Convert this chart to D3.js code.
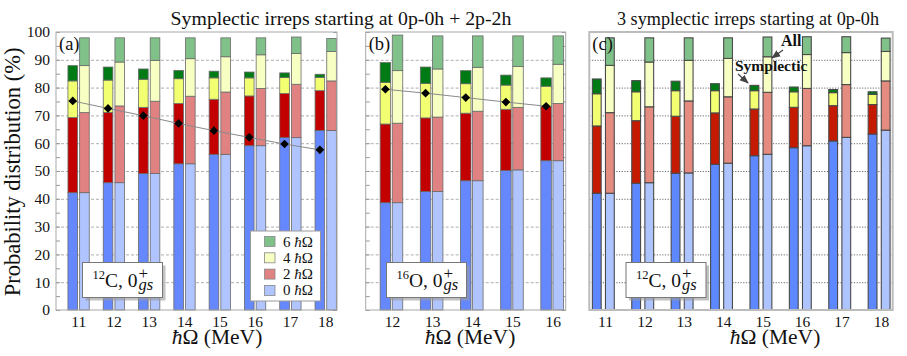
<!DOCTYPE html>
<html><head><meta charset="utf-8">
<script src="https://cdn.jsdelivr.net/npm/d3@7"></script>
<style>
body{margin:0;background:#fff}
</style>
</head><body>
<svg id="chart" width="907" height="356"></svg>
<script>
// ---------------- DATA ----------------
// components ordered [0ħΩ, 2ħΩ, 4ħΩ, 6ħΩ], each an array over the categories
const catsA = [11, 12, 13, 14, 15, 16, 17, 18];
const symA = [
  [42.2, 45.8, 49.1, 52.6, 56.0, 59.1, 62.0, 64.6],
  [27.0, 25.3, 23.8, 21.7, 19.8, 17.9, 15.9, 14.3],
  [13.2, 11.6, 10.1, 8.9, 7.7, 6.5, 5.7, 4.8],
  [5.5, 4.7, 3.7, 3.0, 2.4, 2.1, 1.7, 1.1]
];
const allA = [
  [42.2, 45.8, 49.1, 52.6, 56.0, 59.1, 62.0, 64.6],
  [28.8, 27.6, 26.0, 24.3, 22.4, 20.6, 19.2, 17.8],
  [16.9, 15.8, 14.7, 13.5, 12.7, 12.1, 11.1, 10.6],
  [10.0, 8.7, 8.1, 7.5, 6.8, 6.1, 5.9, 4.7]
];
const diamA = [75.2, 72.5, 69.9, 67.1, 64.5, 62.1, 59.7, 57.6];

const catsB = [12, 13, 14, 15, 16];
const symB = [
  [38.6, 42.6, 46.5, 50.2, 53.7],
  [28.3, 26.5, 24.3, 22.0, 19.6],
  [15.0, 12.4, 10.6, 8.7, 7.2],
  [7.1, 5.9, 4.7, 3.6, 3.0]
];
const allB = [
  [38.6, 42.6, 46.5, 50.4, 53.7],
  [28.6, 26.8, 25.0, 22.5, 20.6],
  [18.9, 17.3, 15.8, 14.7, 14.1],
  [12.8, 11.9, 11.3, 11.0, 10.2]
];
const diamB = [79.4, 78.0, 76.4, 74.8, 73.3];

const catsC = [11, 12, 13, 14, 15, 16, 17, 18];
const symC = [
  [42.0, 45.6, 49.2, 52.4, 55.5, 58.4, 60.8, 63.3],
  [24.2, 22.5, 20.5, 18.5, 16.8, 14.5, 12.7, 10.6],
  [11.6, 10.4, 9.2, 8.0, 6.6, 5.6, 4.7, 3.7],
  [5.3, 4.0, 3.4, 2.5, 1.9, 1.7, 1.1, 0.9]
];
const allC = [
  [42.0, 45.8, 49.3, 52.8, 56.0, 59.1, 62.1, 64.7],
  [29.0, 27.3, 25.9, 23.9, 22.3, 20.6, 19.0, 17.7],
  [17.0, 16.1, 14.6, 13.8, 12.8, 12.2, 11.5, 10.6],
  [9.9, 8.7, 8.1, 7.4, 7.1, 6.4, 5.7, 4.8]
];

const yTicks = [0, 10, 20, 30, 40, 50, 60, 70, 80, 90, 100];
const minorTicks = d3.range(0, 101, 5);
const legendNums = ["6", "4", "2", "0"];
const titleAB = "Symplectic irreps starting at 0p-0h + 2p-2h";
const titleC = "3 symplectic irreps starting at 0p-0h";
const yTitle = "Probability distribution (%)";

// ---------------- STYLE ----------------
const FONT = "Liberation Serif";
const darkColors = ["#6688ff", "#c20000", "#f2ff70", "#007a14"];
const lightColors = ["#b0c4ff", "#e08282", "#f8ffc2", "#80c18a"];
const darkColorsC = ["#5d88ff", "#c41a00", "#f2ff70", "#007a14"];
const lightColorsC = ["#aec4ff", "#e48c80", "#f8ffc2", "#80c18a"];

const svg = d3.select("#chart").style("font-family", FONT);
const plotTop = 32, plotBottom = 310;
const y = d3.scaleLinear().domain([0, 100]).range([plotBottom, plotTop]);

const defs = svg.append("defs");
defs.append("marker").attr("id", "arr").attr("viewBox", "0 0 10 10")
  .attr("refX", 9).attr("refY", 5).attr("markerWidth", 7).attr("markerHeight", 7)
  .attr("orient", "auto-start-reverse")
  .append("path").attr("d", "M0,1 L10,5 L0,9 z").attr("fill", "#444");

function drawPanel(cfg) {
  const x = d3.scaleLinear().domain(cfg.domain).range([cfg.left, cfg.right]);
  const g = svg.append("g");
  const w = cfg.right - cfg.left;

  // gridlines
  const grid = d3.axisLeft(y).tickValues(yTicks.slice(1, -1)).tickSize(-w).tickFormat("");
  const gg = g.append("g").attr("transform", `translate(${cfg.left},0)`).call(grid);
  gg.select(".domain").remove();
  gg.selectAll("line").attr("stroke", cfg.gridColor).attr("stroke-width", cfg.gridWidth)
    .attr("stroke-dasharray", cfg.gridDash);

  // minor ticks (inward) left and right
  if (cfg.ticks) {
    const tl = d3.axisRight(y).tickValues(minorTicks).tickSize(4).tickFormat("");
    const t1 = g.append("g").attr("transform", `translate(${cfg.left},0)`).call(tl);
    t1.select(".domain").remove();
    t1.selectAll("line").attr("stroke", "#999");
    const tr = d3.axisLeft(y).tickValues(minorTicks).tickSize(4).tickFormat("");
    const t2 = g.append("g").attr("transform", `translate(${cfg.right},0)`).call(tr);
    t2.select(".domain").remove();
    t2.selectAll("line").attr("stroke", "#999");
  }

  // bars
  function stackBars(vals, off, colors) {
    cfg.cats.forEach((c, i) => {
      let y0 = 0;
      for (let k = 0; k < 4; k++) {
        const y1 = y0 + vals[k][i];
        g.append("rect")
          .attr("x", x(c) + off - cfg.bw / 2).attr("width", cfg.bw)
          .attr("y", y(y1)).attr("height", y(y0) - y(y1))
          .attr("fill", colors[k]).attr("stroke", cfg.barStroke).attr("stroke-width", cfg.barStrokeW);
        y0 = y1;
      }
    });
  }
  stackBars(cfg.sym, cfg.offDark, cfg.darkColors);
  stackBars(cfg.all, cfg.offLight, cfg.lightColors);

  // diamonds + line
  if (cfg.diam) {
    const line = d3.line().x((d, i) => x(cfg.cats[i]) + cfg.offDark).y(d => y(d));
    g.append("path").attr("d", line(cfg.diam)).attr("fill", "none")
      .attr("stroke", "#8a8a8a").attr("stroke-width", 1);
    const sym = d3.symbol().type(d3.symbolDiamond2).size(48);
    cfg.diam.forEach((d, i) => {
      g.append("path").attr("d", sym())
        .attr("transform", `translate(${x(cfg.cats[i]) + cfg.offDark},${y(d)})`)
        .attr("fill", "#000");
    });
  }

  // frame
  g.append("rect").attr("x", cfg.left).attr("y", plotTop).attr("width", w).attr("height", plotBottom - plotTop)
    .attr("fill", "none").attr("stroke", cfg.frameColor).attr("stroke-width", cfg.frameW);

  // x tick labels
  const xa = d3.axisBottom(x).tickValues(cfg.cats).tickSize(0).tickPadding(0).tickFormat(d3.format("d"));
  const xg = g.append("g").attr("transform", `translate(0,${plotBottom})`).call(xa);
  xg.attr("font-family", null).attr("font-size", null);
  xg.select(".domain").remove();
  xg.selectAll("text").attr("y", 17).attr("dy", 0).attr("font-size", 15.5).attr("fill", "#111");

  // x title
  const xt = g.append("text").attr("x", cfg.xTitleX).attr("y", 344).attr("text-anchor", "middle")
    .attr("font-size", 21.5).attr("fill", "#111");
  xt.append("tspan").attr("font-style", "italic").text("ħ");
  xt.append("tspan").text("Ω (MeV)");

  // panel letter
  g.append("text").attr("x", cfg.left + 3).attr("y", 50).attr("font-size", 18.5).attr("fill", "#111").text(cfg.letter);

  // nucleus label box
  const bx = cfg.boxX, by = 262.5, bwid = 80, bh = 35;
  g.append("rect").attr("x", bx + 3).attr("y", by + 3).attr("width", bwid).attr("height", bh)
    .attr("fill", "#9a9a9a").attr("opacity", 0.6);
  g.append("rect").attr("x", bx).attr("y", by).attr("width", bwid).attr("height", bh)
    .attr("fill", "#fff").attr("stroke", "#777").attr("stroke-width", 1);
  const lt = g.append("text").attr("x", bx + 10).attr("y", 287).attr("font-size", 19.5)
    .attr("fill", "#111").style("font-family", FONT);
  lt.append("tspan").attr("font-size", 12.5).attr("dy", -8).text(cfg.mass);
  lt.append("tspan").attr("dy", 8).text(cfg.elem + ", 0");
  const ex = bx + 10 + lt.node().getComputedTextLength() + 1;
  lt.append("tspan").attr("x", ex).attr("dy", -8).attr("font-size", 17).text("+");
  lt.append("tspan").attr("x", ex).attr("dy", 11).attr("font-size", 16.5).attr("font-style", "italic").text("gs");
  return x;
}

drawPanel({
  left: 56, right: 337, domain: [10.37, 18.33], cats: catsA, sym: symA, all: allA, diam: diamA,
  offDark: -5.5, offLight: 6.2, bw: 9.6, darkColors, lightColors,
  gridColor: "#9a9a9a", gridWidth: 0.8, gridDash: "3,2", ticks: true,
  frameColor: "#a8a8a8", frameW: 1, barStroke: "#6a6a6a", barStrokeW: 0.8,
  xTitleX: 217, letter: "(a)", boxX: 82.5, mass: "12", elem: "C"
});
drawPanel({
  left: 365.7, right: 565.7, domain: [11.345, 16.324], cats: catsB, sym: symB, all: allB, diam: diamB,
  offDark: -6.6, offLight: 5.5, bw: 10.5, darkColors, lightColors,
  gridColor: "#9a9a9a", gridWidth: 0.8, gridDash: "3,2", ticks: true,
  frameColor: "#a8a8a8", frameW: 1, barStroke: "#6a6a6a", barStrokeW: 0.8,
  xTitleX: 470, letter: "(b)", boxX: 386.5, mass: "16", elem: "O"
});
drawPanel({
  left: 589.3, right: 892.7, domain: [10.6, 18.3], cats: catsC, sym: symC, all: allC, diam: null,
  offDark: -8.3, offLight: 4.8, bw: 8.8, darkColors: darkColorsC, lightColors: lightColorsC,
  gridColor: "#444", gridWidth: 0.8, gridDash: "1.2,1.5", ticks: false,
  frameColor: "#bcbcbc", frameW: 2, barStroke: "#4a4a4a", barStrokeW: 1.1,
  xTitleX: 775, letter: "(c)", boxX: 626, mass: "12", elem: "C"
});

// y axis labels (panel a)
const ya = d3.axisLeft(y).tickValues(yTicks).tickSize(0).tickPadding(6);
const yg = svg.append("g").attr("transform", "translate(56,0)").call(ya);
yg.attr("font-family", null).attr("font-size", null);
yg.select(".domain").remove();
yg.selectAll("text").attr("font-size", 15.5).attr("fill", "#111");

svg.append("text").attr("transform", "translate(20,172) rotate(-90)").attr("text-anchor", "middle")
  .attr("font-size", 22.5).attr("fill", "#111").text(yTitle);

// titles
svg.append("text").attr("x", 341).attr("y", 25).attr("text-anchor", "middle").attr("font-size", 19.8).attr("fill", "#111").text(titleAB);
svg.append("text").attr("x", 748).attr("y", 25).attr("text-anchor", "middle").attr("font-size", 18.2).attr("fill", "#111").text(titleC);

// legend
const lg = svg.append("g");
lg.append("rect").attr("x", 250.5).attr("y", 231).attr("width", 70).attr("height", 70)
  .attr("fill", "#fff").attr("stroke", "#999").attr("stroke-width", 1);
legendNums.forEach((n, i) => {
  const cy = 241.5 + i * 16.3;
  lg.append("rect").attr("x", 264.5).attr("y", cy - 5).attr("width", 10.5).attr("height", 10)
    .attr("fill", lightColors[3 - i]).attr("stroke", "#888").attr("stroke-width", 0.8);
  const t = lg.append("text").attr("x", 283).attr("y", cy + 5).attr("font-size", 15).attr("fill", "#111");
  t.append("tspan").text(n + " ");
  t.append("tspan").attr("font-style", "italic").text("ħ");
  t.append("tspan").text("Ω");
});

// annotations in panel c
svg.append("text").attr("x", 781).attr("y", 46).attr("font-size", 16).attr("font-weight", "bold").attr("fill", "#111").text("All");
svg.append("line").attr("x1", 783).attr("y1", 50).attr("x2", 772).attr("y2", 58)
  .attr("stroke", "#444").attr("stroke-width", 1.3).attr("marker-end", "url(#arr)");
svg.append("text").attr("x", 735).attr("y", 71).attr("font-size", 15.5).attr("font-weight", "bold").attr("fill", "#111").text("Symplectic");
svg.append("line").attr("x1", 738).attr("y1", 74).attr("x2", 748).attr("y2", 83)
  .attr("stroke", "#444").attr("stroke-width", 1.3).attr("marker-end", "url(#arr)");

svg.selectAll("text").style("font-family", FONT);
</script>
</body></html>
